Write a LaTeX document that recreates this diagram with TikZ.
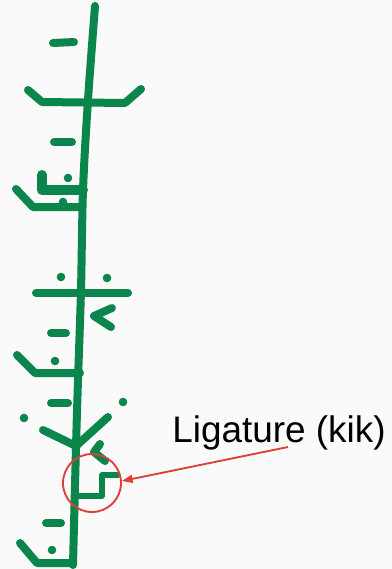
\documentclass[tikz,border=0pt]{standalone}
\usepackage{fontspec}
\setmainfont{Liberation Sans}
\usetikzlibrary{arrows.meta}
\definecolor{pen}{RGB}{10,134,76}
\definecolor{bg}{RGB}{250,250,250}
\definecolor{mark}{RGB}{221,64,52}
\begin{document}
\begin{tikzpicture}[x=0.75pt,y=-0.75pt,
  ink/.style={draw=pen,line width=6pt,line cap=round,line join=round},
  thinink/.style={draw=pen,line width=4.2pt,line cap=round,line join=round},
  dot/.style={fill=pen},
  redline/.style={draw=mark,line width=1.4pt}]
\fill[bg] (0,0) rectangle (392,569);
\useasboundingbox (0,0) rectangle (392,569);
% main stem
\draw[ink] plot[smooth] coordinates {(95,6) (88,100) (83,190) (81,290) (78,380) (76,447) (73,565)};
% glyph 1
\draw[ink] (53,43) -- (74,42);
\draw[ink] (28,90) -- (42,102) -- (125,103) -- (141,89);
\draw[ink] (54,142) -- (72,142);
% glyph 2
\draw[ink,line width=7.5pt] (42,175) -- (42,190) -- (83,190);
\fill[dot] (68,178) circle (4.3);
\draw[ink] (16,189) -- (33,207) -- (82,207);
\fill[dot] (63,202) circle (4.3);
% glyph 3
\fill[dot] (61,277) circle (4.3);
\fill[dot] (107,278) circle (4.3);
\draw[ink] (36,293) -- (128,293);
\draw[ink] (112,308) -- (94,316) -- (111,327);
% glyph 4
\draw[ink] (51,333) -- (66,333);
\fill[dot] (55,361) circle (4.3);
\draw[ink] (17,355) -- (35,373) -- (80,373);
% glyph 5
\draw[ink] (51,403) -- (68,403);
\fill[dot] (123,402) circle (4.3);
\fill[dot] (24,418) circle (4.3);
\draw[ink] (43,430) -- (76,446) -- (108,417);
\draw[ink] (100,444) -- (94,452) -- (105,461);
% ligature
\draw[thinink] (76,496) -- (102,496) -- (102,475) -- (118,475);
% glyph 6
\draw[ink] (46,523) -- (61,523);
\fill[dot] (52,550) circle (4.3);
\draw[ink] (20,543) -- (37,563) -- (73,563);
% annotation
\node[redline,circle,inner sep=0pt,minimum size=43.5pt] (lig) at (92,483) {};
\node[anchor=base west,inner sep=0pt,font=\fontsize{27.7}{33}\selectfont] (label) at (172,442) {Ligature (kik)};
\coordinate (from) at (288,447);
\draw[redline,-{Triangle[length=8pt,width=6pt]}] (from) -- (lig.east |- 0,481) ;
\end{tikzpicture}
\end{document}
